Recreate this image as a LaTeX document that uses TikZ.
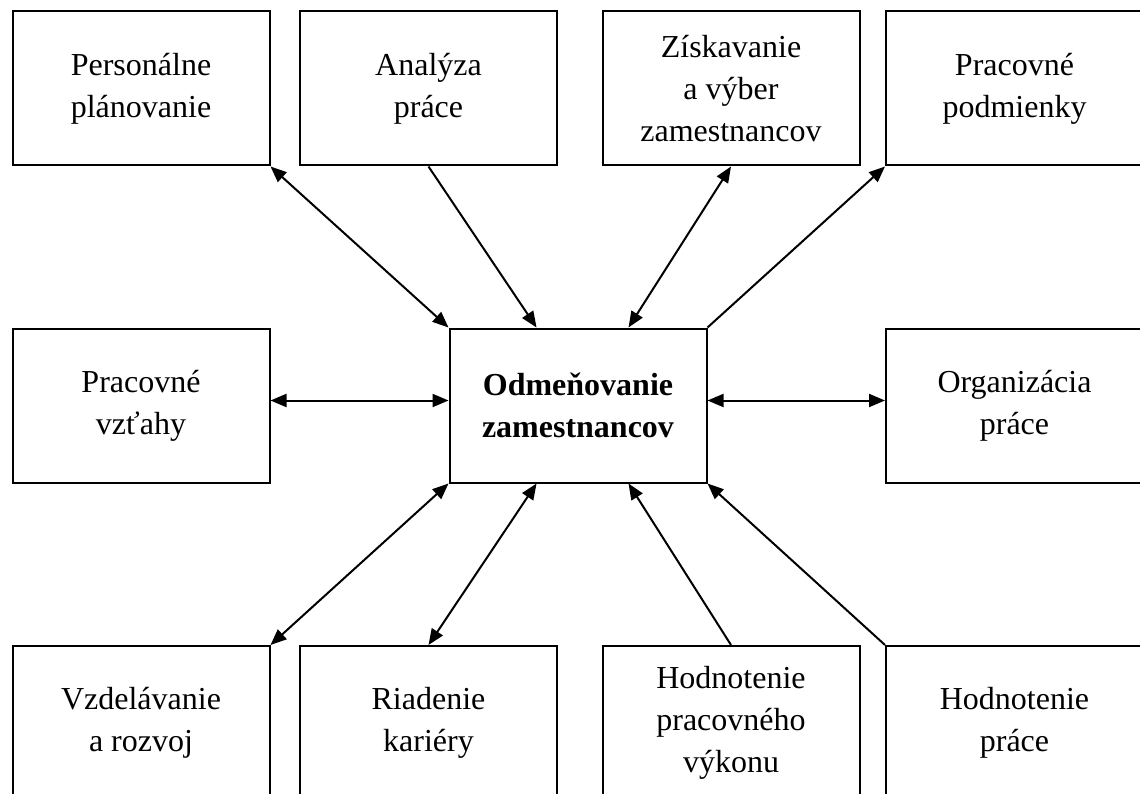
\documentclass[tikz,border=0pt]{standalone}
\usepackage{fontspec}
\setmainfont{Liberation Serif}
\usetikzlibrary{arrows.meta,calc}

\begin{document}
\begin{tikzpicture}[x=1pt,y=1pt]
\tikzstyle{main}=[rectangle, draw=black, line width=2pt, minimum width=257pt, minimum height=154pt, inner sep=0pt, align=center, font=\fontsize{32}{42}\selectfont]
\tikzstyle{connect}=[-{Triangle[length=16pt,width=13pt]}, line width=2pt]
\tikzstyle{twoway}=[{Triangle[length=16pt,width=13pt]}-{Triangle[length=16pt,width=13pt]}, line width=2pt]
\path[use as bounding box, clip] (0,0) rectangle (1140,-794);
  % odmenovanie
  \node[main, font=\fontsize{32}{42}\selectfont\bfseries] (odm) at (578,-405.5) {Odmeňovanie\\zamestnancov};
  % personalne planovanie
  \node[main] (plan) at (141,-88.5) {Personálne\\plánovanie};
  % analyza prace
  \node[main] (anal) at (428.5,-88.5) {Analýza\\práce};
  % ziskavanie
  \node[main] (zisk) at (731,-88.5) {Získavanie\\a výber\\zamestnancov};
  % pracovne podmienky
  \node[main] (podm) at (1014.5,-88.5) {Pracovné\\podmienky};
  % pracovne vztahy
  \node[main] (vzt) at (141,-405.5) {Pracovné\\vzťahy};
  % organizacia prace
  \node[main] (org) at (1014.5,-405.5) {Organizácia\\práce};
  % vzdelavanie
  \node[main] (vzd) at (141,-723) {Vzdelávanie\\a rozvoj};
  % riadenie kariery
  \node[main] (kar) at (428.5,-723) {Riadenie\\kariéry};
  % hodnotenie vykonu
  \node[main] (vyk) at (731,-723) {Hodnotenie\\pracovného\\výkonu};
  % hodnotenie prace
  \node[main] (hod) at (1014.5,-723) {Hodnotenie\\práce};
  \path (plan.south east) edge [twoway] (odm.north west)
        (anal.south) edge [connect] ($(odm.north west)!0.34!(odm.north east)$)
        (zisk.south) edge [twoway] ($(odm.north west)!0.695!(odm.north east)$)
        (odm.north east) edge [connect] (podm.south west)
        ([yshift=5pt]vzt.east) edge [twoway] ([yshift=5pt]odm.west)
        ([yshift=5pt]odm.east) edge [twoway] ([yshift=5pt]org.west)
        (vzd.north east) edge [twoway] (odm.south west)
        (kar.north) edge [twoway] ($(odm.south west)!0.34!(odm.south east)$)
        (vyk.north) edge [connect] ($(odm.south west)!0.695!(odm.south east)$)
        (hod.north west) edge [connect] (odm.south east);
\end{tikzpicture}
\end{document}
